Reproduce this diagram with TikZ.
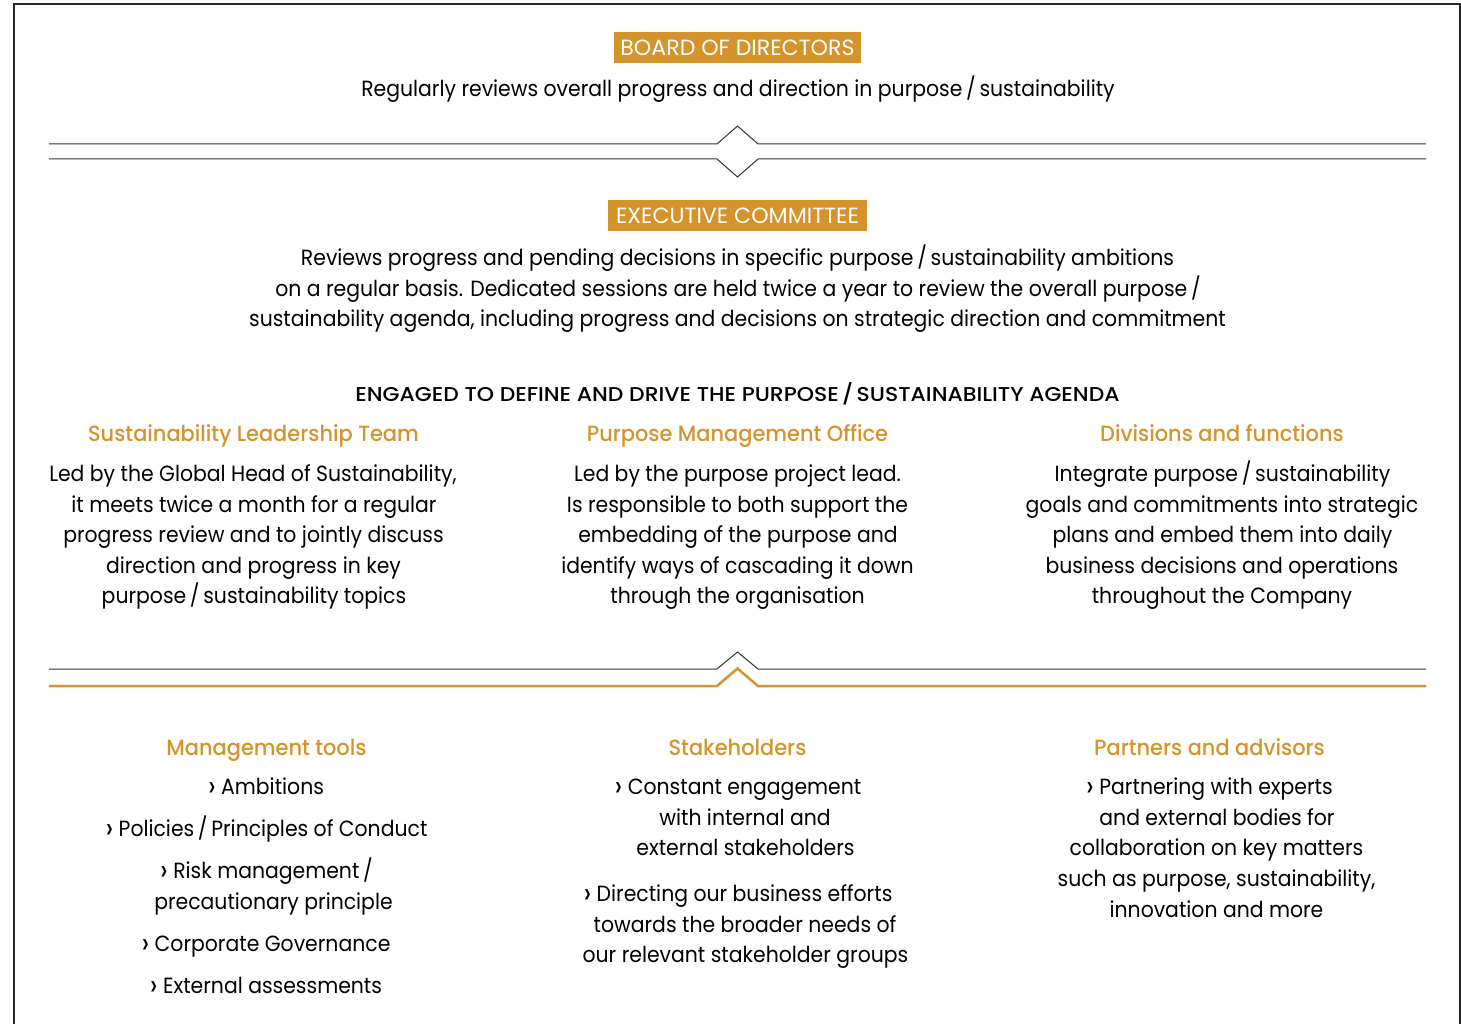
\documentclass[tikz,border=0pt]{standalone}
\usepackage{graphicx}
\usepackage{fontspec}
\setmainfont{Poppins}
\newfontfamily\bodyf{Poppins}[FakeStretch=0.927]
\newfontfamily\headf{Poppins Medium}[FakeStretch=0.951]
\newfontfamily\capsf{Poppins Medium}[FakeStretch=1.096]
\newfontfamily\tagf{Poppins}[FakeStretch=1.006]
\newcommand{\mybul}{\raisebox{-1.8pt}{\scalebox{1.35}{›}}}
\definecolor{gold}{HTML}{D4932B}
\begin{document}
\begin{tikzpicture}[x=1pt,y=-1pt,
  txt/.style={anchor=base, inner sep=0pt, font=\bodyf\fontsize{22}{26}\selectfont},
  head/.style={anchor=base, inner sep=0pt, text=gold, font=\headf\fontsize{22}{26}\selectfont},
  caps/.style={anchor=base, inner sep=0pt, font=\capsf\fontsize{20}{24}\selectfont},
  tag/.style={fill=gold, text=white, inner sep=0pt, font=\tagf\fontsize{22}{26}\selectfont},
  rule/.style={line width=1pt, draw=black!80},
  goldrule/.style={line width=2.5pt, draw=gold},
  frame/.style={line width=1.4pt, draw=black!85}]
\useasboundingbox (0,0) rectangle (1461,1024);
\draw[frame] (14,1030) -- (14,4) -- (1460,4) -- (1460,1030);

% Board
\node[tag, minimum width=247pt, minimum height=31pt] (board) at (737.5,47.5) {BOARD OF DIRECTORS};
\node[txt] (boardtxt) at (738,96.5) {Regularly reviews overall progress and direction in purpose\,/\,sustainability};

% top separator
\draw[rule] (49,144) -- (717,144) -- (737.5,126) -- (758,144) -- (1426,144);
\draw[rule] (49,159) -- (717,159) -- (737.5,177) -- (758,159) -- (1426,159);

% Executive
\node[tag, minimum width=259pt, minimum height=31pt] (exec) at (737.5,215.5) {EXECUTIVE COMMITTEE};
\node[txt] (exec1) at (737.5,265.5) {Reviews progress and pending decisions in specific purpose\,/\,sustainability ambitions};
\node[txt] (exec2) at (738,296) {on a regular basis. Dedicated sessions are held twice a year to review the overall purpose\,/};
\node[txt] (exec3) at (737.5,326.5) {sustainability agenda, including progress and decisions on strategic direction and commitment};

\node[caps] (engaged) at (737.5,401) {ENGAGED TO DEFINE AND DRIVE THE PURPOSE\,/\,SUSTAINABILITY AGENDA};

% columns
\node[head] (slt) at (253.5,441) {Sustainability Leadership Team};
\node[head] (pmo) at (737.5,441) {Purpose Management Office};
\node[head] (div) at (1222,441) {Divisions and functions};

\node[txt] (slt1) at (253,481.5) {Led by the Global Head of Sustainability,};
\node[txt] (slt2) at (254,512) {it meets twice a month for a regular};
\node[txt] (slt3) at (253.5,542.5) {progress review and to jointly discuss};
\node[txt] (slt4) at (253.5,573) {direction and progress in key};
\node[txt] (slt5) at (254,603.5) {purpose\,/\,sustainability topics};

\node[txt] (pmo1) at (737.5,481.5) {Led by the purpose project lead.};
\node[txt] (pmo2) at (737.5,512) {Is responsible to both support the};
\node[txt] (pmo3) at (738,542.5) {embedding of the purpose and};
\node[txt] (pmo4) at (737.5,573) {identify ways of cascading it down};
\node[txt] (pmo5) at (737.5,603.5) {through the organisation};

\node[txt] (div1) at (1222.5,481.5) {Integrate purpose\,/\,sustainability};
\node[txt] (div2) at (1222,512) {goals and commitments into strategic};
\node[txt] (div3) at (1222.5,542.5) {plans and embed them into daily};
\node[txt] (div4) at (1222,573) {business decisions and operations};
\node[txt] (div5) at (1222,603.5) {throughout the Company};

% lower separator
\draw[rule] (49,669) -- (717,669) -- (737.5,652) -- (758,669) -- (1426,669);
\draw[goldrule] (49,686) -- (717,686) -- (737.5,668.5) -- (758,686) -- (1426,686);

% bottom columns
\node[head] (mt) at (266.5,755) {Management tools};
\node[head] (sh) at (737.5,755) {Stakeholders};
\node[head] (pa) at (1209.5,755) {Partners and advisors};

\node[txt] (mt1) at (266,794.5) {\mybul{} Ambitions};
\node[txt] (mt2) at (266.5,836.5) {\mybul{} Policies\,/\,Principles of Conduct};
\node[txt] (mt3) at (266.5,878.5) {\mybul{} Risk management\,/};
\node[txt] (mt4) at (273.5,909.5) {precautionary principle};
\node[txt] (mt5) at (266,951.5) {\mybul{} Corporate Governance};
\node[txt] (mt6) at (266,993.5) {\mybul{} External assessments};

\node[txt] (sh1) at (738,794.5) {\mybul{} Constant engagement};
\node[txt] (sh2) at (745,825.5) {with internal and};
\node[txt] (sh3) at (745.5,855.5) {external stakeholders};
\node[txt] (sh4) at (738,901.5) {\mybul{} Directing our business efforts};
\node[txt] (sh5) at (745,932.5) {towards the broader needs of};
\node[txt] (sh6) at (745.5,962.5) {our relevant stakeholder groups};

\node[txt] (pa1) at (1209.5,794.5) {\mybul{} Partnering with experts};
\node[txt] (pa2) at (1217,825.5) {and external bodies for};
\node[txt] (pa3) at (1216.5,855.5) {collaboration on key matters};
\node[txt] (pa4) at (1216.5,886.5) {such as purpose, sustainability,};
\node[txt] (pa5) at (1216.5,917.5) {innovation and more};
\end{tikzpicture}
\end{document}
